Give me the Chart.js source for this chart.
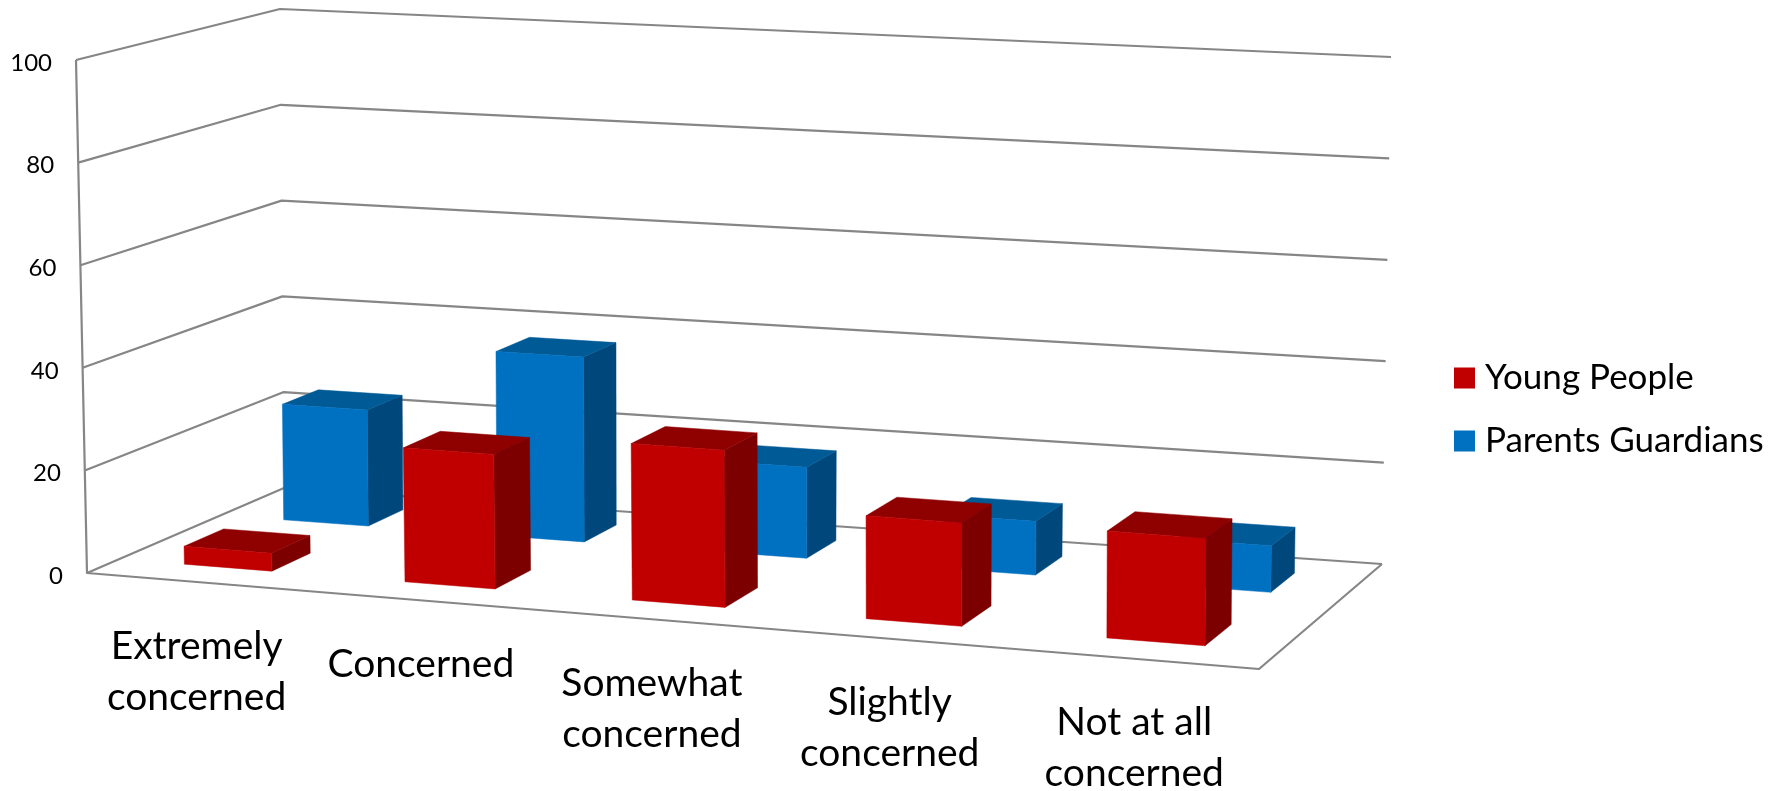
<!DOCTYPE html>
<html>
<head>
<meta charset="utf-8">
<title>Level of concern</title>
<script src="https://cdn.jsdelivr.net/npm/chart.js@4"></script>
<style>
    html, body { margin: 0; padding: 0; background: #fff; }
    #wrap { width: 1779px; height: 791px; }
</style>
</head>
<body>
<div id="wrap"><canvas id="concernChart"></canvas></div>
<script>
const categories = [
    ['Extremely', 'concerned'],
    ['Concerned'],
    ['Somewhat', 'concerned'],
    ['Slightly', 'concerned'],
    ['Not at all', 'concerned']
];
const seriesNames = ['Young People', 'Parents Guardians'];
const youngPeople = [3.5, 26, 30, 19.5, 20];
const parentsGuardians = [23.5, 37, 18, 10.5, 9];
const valueTicks = [0, 20, 40, 60, 80, 100];

// corners of the 3D box, floor and top, as [x, y]
const floorCorners = { fl: [87, 573], fr: [1259, 669], bl: [284, 488], br: [1382, 564] };
const topCorners = { fl: [76, 60], fr: [1262, 124], bl: [280, 9], br: [1391, 57] };

// depth span of each row of columns, 0 = front edge, 1 = back wall
const rowDepth = [[0.165, 0.37], [0.68, 0.865]];
const faceColors = [
    { front: '#C00000', side: '#7C0000', top: '#8F0000' },
    { front: '#0070C0', side: '#00487C', top: '#005A96' }
];
const gridColor = '#868686';
const fontName = 'Lato, "Open Sans", sans-serif';

function mix(a, b, t) {
    return [a[0] + (b[0] - a[0]) * t, a[1] + (b[1] - a[1]) * t];
}

// u along the categories, v up the value axis, w into the depth (all 0 to 1)
function project(u, v, w) {
    // the near end of the category axis is slightly foreshortened
    const s = u - 0.072 * u * (1 - u);
    const floor = mix(mix(floorCorners.fl, floorCorners.fr, s), mix(floorCorners.bl, floorCorners.br, s), w);
    const top = mix(mix(topCorners.fl, topCorners.fr, s), mix(topCorners.bl, topCorners.br, s), w);
    return mix(floor, top, v);
}

function polygon(ctx, points, color) {
    ctx.beginPath();
    points.forEach((p, i) => i ? ctx.lineTo(p[0], p[1]) : ctx.moveTo(p[0], p[1]));
    ctx.closePath();
    ctx.fillStyle = color;
    ctx.fill();
    // same colour outline closes the hairline gaps between faces
    ctx.strokeStyle = color;
    ctx.lineWidth = 0.5;
    ctx.stroke();
}

function line(ctx, points) {
    ctx.beginPath();
    points.forEach((p, i) => i ? ctx.lineTo(p[0], p[1]) : ctx.moveTo(p[0], p[1]));
    ctx.stroke();
}

function drawWalls(chart) {
    const ctx = chart.ctx;
    const yScale = chart.scales.y;
    const area = chart.chartArea;
    ctx.save();
    ctx.strokeStyle = gridColor;
    ctx.lineWidth = 2.2;
    ctx.lineJoin = 'round';
    yScale.ticks.forEach(tick => {
        const v = (area.bottom - yScale.getPixelForValue(tick.value)) / area.height;
        line(ctx, [project(0, v, 0), project(0, v, 1), project(1, v, 1)]);
    });
    line(ctx, [project(0, 1, 0), project(0, 0, 0), project(1, 0, 0), project(1, 0, 1)]);
    ctx.restore();
}

function drawColumns(chart) {
    const ctx = chart.ctx;
    const area = chart.chartArea;
    // back row first so the front row covers it
    for (let d = chart.data.datasets.length - 1; d >= 0; d--) {
        const [w0, w1] = rowDepth[d];
        const colors = faceColors[d];
        chart.getDatasetMeta(d).data.forEach(bar => {
            const u0 = (bar.x - bar.width / 2 - area.left) / area.width;
            const u1 = (bar.x + bar.width / 2 - area.left) / area.width;
            const v = (area.bottom - bar.y) / area.height;
            polygon(ctx, [project(u1, 0, w0), project(u1, 0, w1), project(u1, v, w1), project(u1, v, w0)], colors.side);
            polygon(ctx, [project(u0, v, w0), project(u1, v, w0), project(u1, v, w1), project(u0, v, w1)], colors.top);
            polygon(ctx, [project(u0, 0, w0), project(u1, 0, w0), project(u1, v, w0), project(u0, v, w0)], colors.front);
        });
    }
}

function drawLabels(chart) {
    const ctx = chart.ctx;
    const xScale = chart.scales.x;
    const yScale = chart.scales.y;
    const area = chart.chartArea;
    ctx.save();
    ctx.fillStyle = '#000';

    ctx.font = '24px ' + fontName;
    ctx.textAlign = 'right';
    ctx.textBaseline = 'middle';
    yScale.ticks.forEach(tick => {
        const v = (area.bottom - yScale.getPixelForValue(tick.value)) / area.height;
        const p = project(0, v, 0);
        ctx.fillText(tick.label, p[0] - 24, p[1] + 3);
    });

    ctx.font = '39px ' + fontName;
    ctx.textAlign = 'center';
    ctx.textBaseline = 'middle';
    categories.forEach((lines, i) => {
        const p = project((xScale.getPixelForTick(i) - area.left) / area.width, 0, 0);
        lines.forEach((text, n) => ctx.fillText(text, p[0], p[1] + 64 + n * 51));
    });
    ctx.restore();
}

const box3dPlugin = {
    id: 'box3d',
    afterLayout(chart) {
        // legend sits lower than the middle of the plot
        const legend = chart.legend;
        legend.left = 1433.5;
        legend.top += 93;
        legend.bottom += 93;
    },
    beforeDatasetsDraw(chart) {
        drawWalls(chart);
        drawColumns(chart);
        drawLabels(chart);
        return false;
    }
};

new Chart(document.getElementById('concernChart'), {
    type: 'bar',
    data: {
        labels: categories,
        datasets: [
            { label: seriesNames[0], data: youngPeople, backgroundColor: faceColors[0].front, borderWidth: 0 },
            { label: seriesNames[1], data: parentsGuardians, backgroundColor: faceColors[1].front, borderWidth: 0 }
        ]
    },
    options: {
        responsive: true,
        maintainAspectRatio: false,
        animation: false,
        layout: { padding: { left: 87, top: 60, bottom: 218, right: 0 } },
        datasets: { bar: { grouped: false, categoryPercentage: 1, barPercentage: 0.4 } },
        scales: {
            x: { grid: { display: false }, border: { display: false }, ticks: { display: false } },
            y: {
                min: valueTicks[0],
                max: valueTicks[valueTicks.length - 1],
                grid: { display: false },
                border: { display: false },
                ticks: { display: false, stepSize: 20 }
            }
        },
        plugins: {
            tooltip: { enabled: false },
            legend: {
                position: 'right',
                labels: {
                    // a narrow label box pulls the text in close to the square
                    usePointStyle: true,
                    pointStyle: 'rect',
                    boxWidth: 6,
                    boxHeight: 21,
                    padding: 28,
                    color: '#000',
                    font: { family: fontName, size: 35 }
                }
            }
        }
    },
    plugins: [box3dPlugin]
});
</script>
</body>
</html>
